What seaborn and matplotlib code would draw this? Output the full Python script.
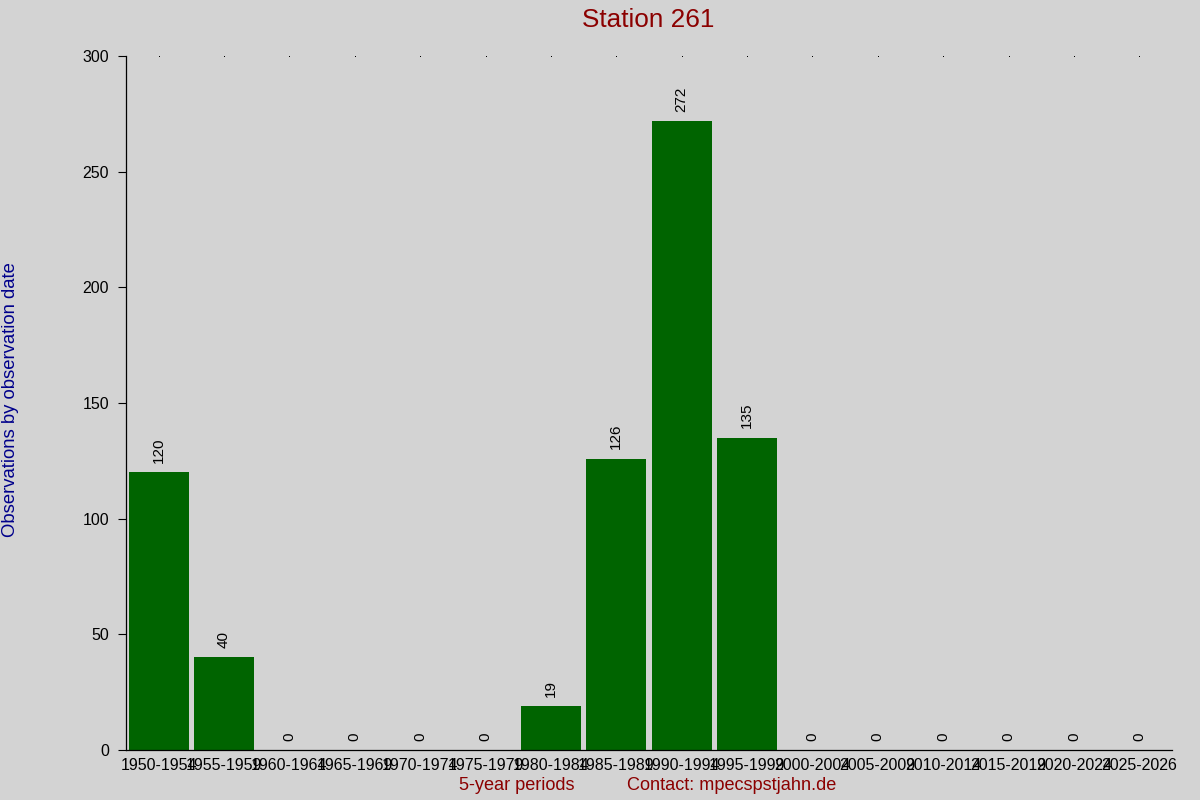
import matplotlib
matplotlib.use("Agg")
import matplotlib.pyplot as plt
import seaborn as sns
import pandas as pd

periods = ["1950-1954", "1955-1959", "1960-1964", "1965-1969", "1970-1974", "1975-1979",
           "1980-1984", "1985-1989", "1990-1994", "1995-1999", "2000-2004", "2005-2009",
           "2010-2014", "2015-2019", "2020-2024", "2025-2026"]
counts = [120, 40, 0, 0, 0, 0, 19, 126, 272, 135, 0, 0, 0, 0, 0, 0]
yticks = [0, 50, 100, 150, 200, 250, 300]

sns.set_theme(style="white")
plt.rcParams['font.family'] = ['Liberation Sans', 'DejaVu Sans']

bg = "#D3D3D3"
fig = plt.figure(figsize=(12, 8), dpi=100, facecolor=bg)
ax = fig.add_axes([126/1200, 50/800, (1172-126)/1200, (750-56)/800])
ax.set_facecolor(bg)

df = pd.DataFrame({"period": periods, "count": counts})
sns.barplot(data=df, x="period", y="count", color="#006400", saturation=1,
            width=0.92, linewidth=0, edgecolor="none", ax=ax)

ax.set_ylim(0, 300)
ax.set_xlim(-0.5, len(periods) - 0.5)
ax.set_yticks(yticks)
ax.set_yticklabels([str(v) for v in yticks], fontsize=11.5, color="black")
ax.tick_params(axis="y", direction="out", length=5.8, width=0.8, color="black", pad=6.5, left=True)
ax.tick_params(axis="x", length=0, pad=6, labelsize=11.5, labelcolor="black")

for s in ["top", "right"]:
    ax.spines[s].set_visible(False)
ax.spines["left"].set_color("black")
ax.spines["bottom"].set_color("black")
ax.spines["left"].set_linewidth(0.9)
ax.spines["bottom"].set_linewidth(0.9)

# top dots at category centers
for i in range(len(periods)):
    ax.plot(i, 300, marker="s", markersize=0.7, markeredgewidth=0, color="black", clip_on=False)

for i, v in enumerate(counts):
    ax.text(i, v + 4, str(v), rotation=90, ha="center", va="bottom",
            fontsize=11, color="black")

ax.set_xlabel("")
ax.set_ylabel("")

fig.text(0.54, 0.975, "Station 261", ha="center", va="center", fontsize=18.8, color="#8B0000")
fig.text(11/1200, 0.5, "Observations by observation date", rotation=90, ha="center",
         va="center", fontsize=13.3, color="#00008B")
fig.text(517/1200, 1 - 786/800, "5-year periods", ha="center", va="center",
         fontsize=13.1, color="#8B0000")
fig.text(732/1200, 1 - 786/800, "Contact: mpecspstjahn.de", ha="center", va="center",
         fontsize=13.1, color="#8B0000")

fig.savefig("out.png", dpi=100, facecolor=bg)
